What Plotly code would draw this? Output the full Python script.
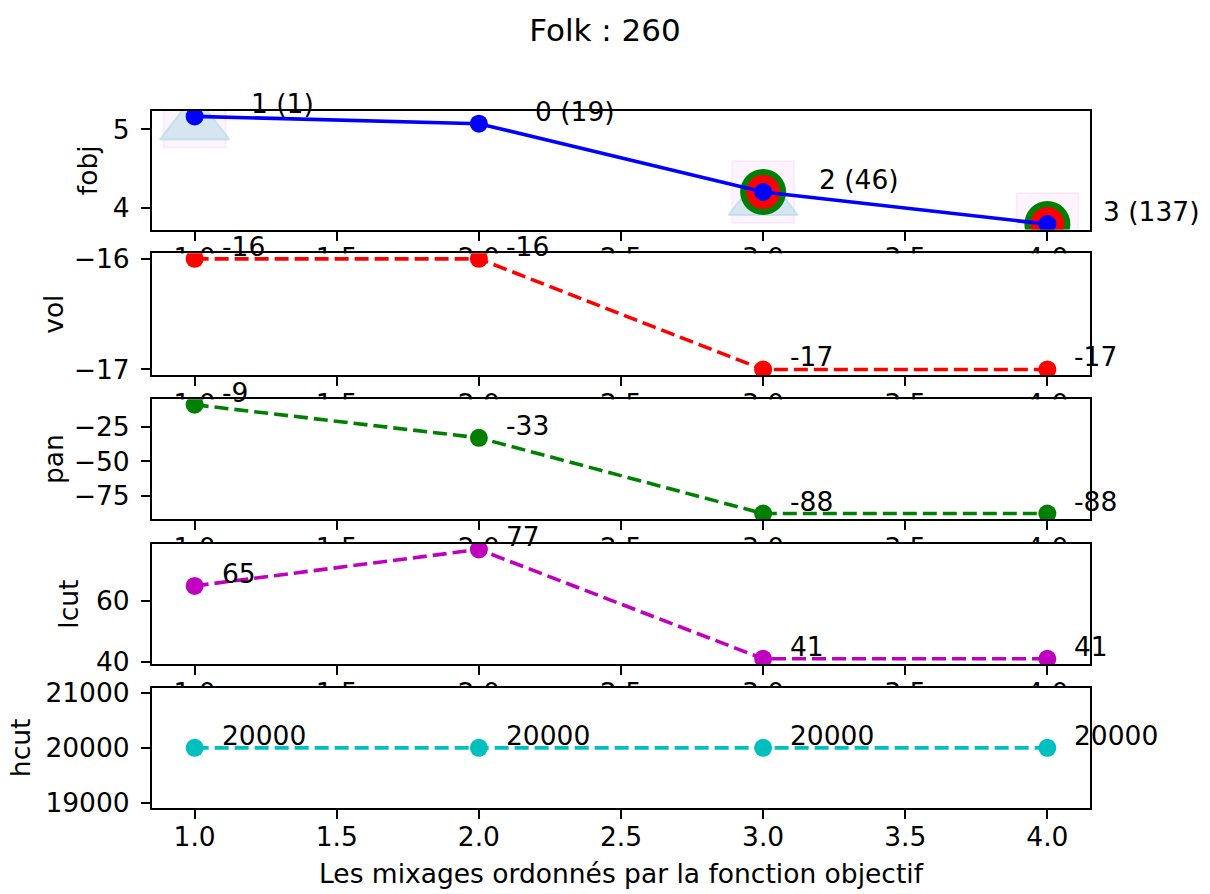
import plotly.graph_objects as go

# ---------------- data ----------------
title_text = "Folk : 260"
x_title = "Les mixages ordonnés par la fonction objectif"

x = [1.0, 2.0, 3.0, 4.0]
fobj = [5.166, 5.073, 4.20, 3.79]
vol = [-16, -16, -17, -17]
pan = [-9, -33, -88, -88]
lcut = [65, 77, 41, 41]
hcut = [20000, 20000, 20000, 20000]

fobj_labels = ["1 (1)", "0 (19)", "2 (46)", "3 (137)"]
vol_labels = ["-16", "-16", "-17", "-17"]
pan_labels = ["-9", "-33", "-88", "-88"]
lcut_labels = ["65", "77", "41", "41"]
hcut_labels = ["20000", "20000", "20000", "20000"]

# highlight markers on the fobj panel (per point)
square_flag = [True, False, True, True]
triangle_flag = [True, False, True, True]
ring_flag = [False, False, True, True]

x_tickvals = [1.0, 1.5, 2.0, 2.5, 3.0, 3.5, 4.0]
x_ticktext = ["1.0", "1.5", "2.0", "2.5", "3.0", "3.5", "4.0"]

y_names = ["fobj", "vol", "pan", "lcut", "hcut"]
y_tickvals = [[4, 5], [-17, -16], [-75, -50, -25], [40, 60], [19000, 20000, 21000]]
y_ticktext = [["4", "5"], ["\u221217", "\u221216"], ["\u221275", "\u221250", "\u221225"],
              ["40", "60"], ["19000", "20000", "21000"]]

# ---------------- style / layout ----------------
W, H = 1210, 894
ML, MR, MT, MB = 152, 120, 111, 86
PH = H - MT - MB
panel_px = [(111.0, 229.5), (253.3, 375.0), (399.3, 519.0), (544.0, 664.2), (687.7, 808.0)]
title_standoffs = [8, 2, 2, 10, 7]
FONT = "DejaVu Sans"
FS = 26.5
LW = 3.6
DASH = "14px,6px"
MS = 18
colors = ["#0000ff", "#ff0000", "#008000", "#bf00bf", "#00bfbf"]


def mpl_range(vals, margin=0.05):
    lo, hi = min(vals), max(vals)
    if hi - lo == 0:
        d = 0.05 * abs(lo) if lo != 0 else 1
        lo, hi = lo - d, hi + d
    span = hi - lo
    return [lo - margin * span, hi + margin * span]


series = [fobj, vol, pan, lcut, hcut]
labels = [fobj_labels, vol_labels, pan_labels, lcut_labels, hcut_labels]
xr = mpl_range(x)

fig = go.Figure()


def pick(vals, flags):
    return [v for v, f in zip(vals, flags) if f]


# highlight markers (top panel)
fig.add_trace(go.Scatter(x=pick(x, square_flag), y=pick(fobj, square_flag), mode="markers",
                         marker=dict(symbol="square", size=62, color="rgba(238,130,238,0.09)",
                                     line=dict(color="rgba(238,130,238,0.11)", width=2)),
                         xaxis="x", yaxis="y", showlegend=False, hoverinfo="skip"))
fig.add_trace(go.Scatter(x=pick(x, triangle_flag), y=pick(fobj, triangle_flag), mode="markers",
                         marker=dict(symbol="triangle-up", size=60, standoff=8,
                                     color="rgba(173,216,230,0.5)",
                                     line=dict(color="rgba(173,216,230,0.6)", width=2)),
                         xaxis="x", yaxis="y", showlegend=False, hoverinfo="skip"))
fig.add_trace(go.Scatter(x=pick(x, ring_flag), y=pick(fobj, ring_flag), mode="markers",
                         marker=dict(symbol="circle", size=46, color="#008000"),
                         xaxis="x", yaxis="y", showlegend=False, hoverinfo="skip"))
fig.add_trace(go.Scatter(x=pick(x, ring_flag), y=pick(fobj, ring_flag), mode="markers",
                         marker=dict(symbol="circle", size=34, color="#ff0000"),
                         xaxis="x", yaxis="y", showlegend=False, hoverinfo="skip"))

annotations = []
shapes = []
for i, (vals, lab) in enumerate(zip(series, labels)):
    k = "" if i == 0 else str(i + 1)
    xa, ya = "x" + k, "y" + k
    fig.add_trace(go.Scatter(
        x=x, y=vals, mode="lines+markers", xaxis=xa, yaxis=ya,
        line=dict(color=colors[i], width=LW, dash="solid" if i == 0 else DASH),
        marker=dict(size=MS, color=colors[i]), showlegend=False, name=y_names[i]))
    yr = mpl_range(vals)
    top, bot = panel_px[i]
    dom = [(H - MB - bot) / PH, (H - MB - top) / PH]
    fig.layout["xaxis" + k] = dict(
        domain=[0, 1], range=xr, anchor=ya, tickvals=x_tickvals, ticktext=x_ticktext,
        ticks="outside", ticklen=9, tickwidth=2, tickcolor="black",
        showline=True, linecolor="black", linewidth=2, mirror=True,
        showgrid=False, zeroline=False, ticklabelstandoff=-5,
        tickfont=dict(family=FONT, size=FS, color="black"), automargin=False)
    fig.layout["yaxis" + k] = dict(
        domain=dom, range=yr, anchor=xa, tickvals=y_tickvals[i], ticktext=y_ticktext[i],
        ticks="outside", ticklen=9, tickwidth=2, tickcolor="black",
        showline=True, linecolor="black", linewidth=2, mirror=True,
        showgrid=False, zeroline=False, ticklabelstandoff=6,
        tickfont=dict(family=FONT, size=FS, color="black"), automargin=False,
        title=dict(text=y_names[i], font=dict(family=FONT, size=FS, color="black"),
                   standoff=title_standoffs[i]))
    if i > 0:
        # panel background drawn over the tick labels of the panel above
        shapes.append(dict(type="rect", xref=xa, yref=ya, x0=xr[0], x1=xr[1], y0=yr[0], y1=yr[1],
                           fillcolor="white", line=dict(width=0), layer="below"))
    for xv, yv, t in zip(x, vals, lab):
        annotations.append(dict(x=xv, y=yv, xref=xa, yref=ya, text=t, showarrow=False,
                                xanchor="left", yanchor="bottom",
                                xshift=54 if i == 0 else 25, yshift=-5,
                                font=dict(family=FONT, size=FS, color="black")))

fig.layout["xaxis5"]["title"] = dict(text=x_title, font=dict(family=FONT, size=FS, color="black"),
                                     standoff=14)

fig.update_layout(
    width=W, height=H,
    margin=dict(l=ML, r=MR, t=MT, b=MB),
    paper_bgcolor="white", plot_bgcolor="white",
    title=dict(text=title_text, x=0.5, xanchor="center", y=1 - 30 / H, yanchor="middle",
               font=dict(family=FONT, size=31, color="black")),
    font=dict(family=FONT, size=FS, color="black"),
    annotations=annotations, shapes=shapes,
)

fig.write_html("out.html")
